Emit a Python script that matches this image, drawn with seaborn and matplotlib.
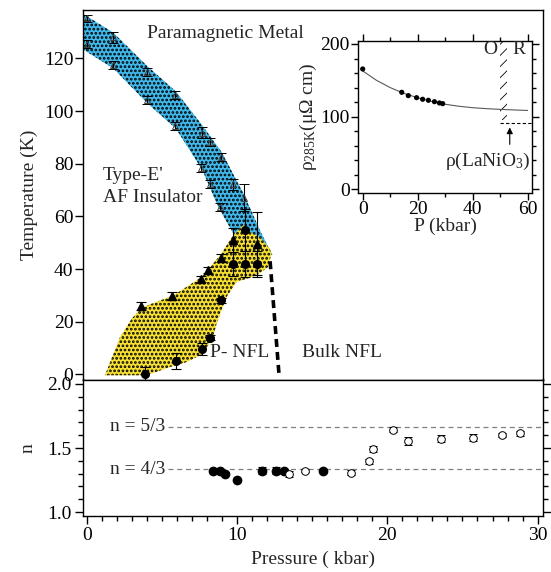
import numpy as np
import pandas as pd
import matplotlib
matplotlib.use('Agg')
import matplotlib.pyplot as plt
import seaborn as sns
from matplotlib.ticker import MultipleLocator

# ---- phase diagram (top panel) ----
# AF insulator band outline (pressure kbar, temperature K)
af_band_p = [-0.4, 1.77, 4.05, 5.93, 7.7, 8.97, 10.4, 11.5, 12.2, 12.35, 11.5, 10.5, 9.63, 8.75, 8.08, 7.7, 5.93, 4.05, 1.77, -0.4]
af_band_t = [137.5, 129.8, 117.0, 107.5, 94.5, 84.5, 69.0, 55.0, 47.0, 45.5, 43.0, 46.0, 54.8, 63.6, 72.5, 77.6, 93.4, 102.9, 116.2, 124.0]

# P-NFL region outline
nfl_band_p = [1.21, 2.21, 2.99, 3.65, 5.75, 7.64, 8.86, 9.74, 10.4, 10.85, 11.5, 12.18, 12.29, 12.07, 11.3, 9.97, 9.3, 8.64, 8.41, 7.75, 6.64, 5.53, 3.99]
nfl_band_t = [-0.3, 14.2, 21.2, 25.4, 30.0, 37.0, 45.2, 52.8, 56.7, 54.1, 52.2, 47.8, 45.9, 40.8, 37.6, 35.1, 29.4, 19.3, 14.2, 7.9, 4.7, 2.8, -0.3]

# transition points in the AF band (open triangles)
open_p = [0.0, 0.0, 1.75, 1.75, 4.0, 4.0, 5.9, 5.9, 7.7, 8.2, 8.9, 7.6, 8.2, 9.74, 10.47, 8.86]
open_t = [135.2, 125.6, 128.0, 117.6, 115.0, 104.3, 106.3, 94.4, 91.8, 88.2, 82.6, 78.5, 72.4, 72.2, 67.2, 63.6]
open_err = [1.5, 1.5, 2.0, 1.5, 1.5, 1.5, 1.5, 1.5, 2.0, 1.5, 1.5, 1.5, 1.5, 2.0, 5.0, 1.5]

# P-NFL upper points (filled triangles)
tri_p = [3.6, 5.7, 7.6, 8.1, 8.9, 9.74, 11.36]
tri_t = [26.0, 29.8, 36.3, 39.8, 44.4, 51.2, 49.7]
tri_err = [1.5, 1.5, 1.0, 1.2, 1.5, 4.5, 12.0]

# P-NFL lower points (filled circles)
dot_p = [3.9, 5.95, 7.7, 8.2, 8.95, 9.74, 10.5, 11.36, 10.5]
dot_t = [0.2, 5.2, 9.7, 14.0, 28.2, 41.9, 41.9, 41.9, 54.8]
dot_err = [2.5, 3.0, 2.2, 1.0, 1.0, 4.5, 5.0, 5.0, 8.0]

# bulk NFL boundary
bound_p = [12.2, 12.8]
bound_t = [43.0, -0.5]

# ---- inset: resistivity at 285 K ----
rho_p = [0.0, 14.2, 16.6, 19.6, 21.8, 23.9, 26.1, 27.9, 29.1]
rho_vals = [165.6, 133.5, 128.9, 126.1, 123.9, 122.5, 120.6, 118.8, 117.9]
fit_p = [0, 5, 10, 15, 20, 25, 30, 35, 40, 45, 50, 55, 60]
fit_rho = [163.0, 150.0, 140.0, 132.0, 126.0, 121.0, 117.0, 114.3, 112.3, 111.0, 110.0, 109.2, 108.5]
or_band_p = [50.0, 52.5]
or_band_lo = [95.0, 95.0]
or_band_hi = [210.0, 210.0]
lanio3_rho = 91.7

# ---- exponent n (bottom panel) ----
n_fill_p = [8.42, 8.84, 9.2, 10.02, 11.66, 12.57, 13.1, 15.74]
n_fill = [1.324, 1.324, 1.297, 1.249, 1.324, 1.324, 1.324, 1.324]
n_fill_err = [0.01, 0.01, 0.01, 0.01, 0.03, 0.03, 0.01, 0.015]
n_open_p = [13.49, 14.52, 17.57, 18.81, 19.02, 20.38, 21.37, 23.57, 25.73, 27.66, 28.83]
n_open = [1.297, 1.324, 1.308, 1.395, 1.492, 1.643, 1.554, 1.573, 1.581, 1.603, 1.614]
n_open_err = [0.02, 0.01, 0.02, 0.02, 0.02, 0.02, 0.03, 0.025, 0.025, 0.015, 0.02]
n_ref = [5 / 3, 4 / 3]
n_ref_labels = ['n = 5/3', 'n = 4/3']

sns.set_style('ticks')
plt.rcParams['font.family'] = ['Liberation Serif', 'DejaVu Serif']
plt.rcParams['mathtext.fontset'] = 'custom'
plt.rcParams['mathtext.rm'] = 'Liberation Serif'
plt.rcParams['mathtext.it'] = 'Liberation Serif:italic'
plt.rcParams['axes.linewidth'] = 1.0
plt.rcParams['axes.edgecolor'] = 'k'
plt.rcParams['xtick.color'] = 'k'
plt.rcParams['ytick.color'] = 'k'

fig = plt.figure(figsize=(5.51, 5.72), dpi=100)

# top panel
ax = fig.add_axes([83 / 551, 1 - 379.5 / 572, 460 / 551, 370 / 572])
plt.rcParams['hatch.linewidth'] = 1.3
p1 = ax.fill(af_band_p, af_band_t, facecolor='#40b8ea', edgecolor='k', linewidth=0, hatch='....')
p2 = ax.fill(nfl_band_p, nfl_band_t, facecolor='#f6e034', edgecolor='k', linewidth=0, hatch='....')
for p in p1 + p2:
    if hasattr(p, 'set_hatch_linewidth'):
        p.set_hatch_linewidth(1.3)
ax.plot(bound_p, bound_t, color='k', lw=2.6, dashes=(2.2, 1.4))

ax.errorbar(open_p, open_t, yerr=open_err, fmt='^', ms=5, mfc='none', mec='0.25', mew=0.7,
            ecolor='k', elinewidth=0.8, capsize=3.5, capthick=0.8)
ax.errorbar(tri_p, tri_t, yerr=tri_err, fmt='^', ms=6, color='k',
            elinewidth=0.8, capsize=3.5, capthick=0.8)
ax.errorbar(dot_p, dot_t, yerr=dot_err, fmt='o', ms=5.5, color='k',
            elinewidth=0.8, capsize=3.5, capthick=0.8)

ax.text(3.98, 129.5, 'Paramagnetic Metal', fontsize=14, va='center')
ax.text(1.08, 75.7, "Type-E'", fontsize=14, va='center')
ax.text(1.08, 67.4, 'AF Insulator', fontsize=14, va='center')
ax.text(8.2, 8.5, 'P- NFL', fontsize=14, va='center')
ax.text(14.3, 8.5, 'Bulk NFL', fontsize=14, va='center')

ax.set_xlim(-0.25, 30.36)
ax.set_ylim(-1.9, 138.6)
ax.xaxis.set_major_locator(MultipleLocator(10))
ax.xaxis.set_minor_locator(MultipleLocator(1))
ax.yaxis.set_major_locator(MultipleLocator(20))
ax.tick_params(axis='x', which='major', direction='out', length=6, width=1, labelbottom=False)
ax.tick_params(axis='x', which='minor', direction='out', length=3.5, width=1)
ax.tick_params(axis='y', direction='out', length=6, width=1, labelsize=14, pad=1)
ax.set_ylabel('Temperature (K)', fontsize=14, labelpad=4)

# inset
ax3 = fig.add_axes([358.3 / 551, 1 - 192.5 / 572, 174 / 551, 151.8 / 572])
plt.rcParams['hatch.linewidth'] = 0.6
band = ax3.fill_between(or_band_p, or_band_lo, or_band_hi, facecolor='none', edgecolor='k',
                        linewidth=0, hatch='///')
if hasattr(band, 'set_hatch_linewidth'):
    band.set_hatch_linewidth(0.6)
sns.lineplot(x=fit_p, y=fit_rho, ax=ax3, color='0.35', lw=0.8)
sns.scatterplot(x=rho_p, y=rho_vals, ax=ax3, color='k', s=14, edgecolor='none', zorder=3)
ax3.hlines(lanio3_rho, 50, 62, color='k', lw=0.8, linestyles=(0, (3, 2)))
ax3.annotate('', xy=(53.5, 89), xytext=(53.5, 58),
             arrowprops=dict(arrowstyle='-|>', color='k', lw=0.8, mutation_scale=9))
ax3.text(46.5, 193, 'O', fontsize=14, ha='center', va='center')
ax3.text(57.0, 193, 'R', fontsize=14, ha='center', va='center')
ax3.text(61.0, 38, 'ρ(LaNiO$_3$)', fontsize=14, ha='right', va='center')
ax3.set_xlim(-1.6, 61.7)
ax3.set_ylim(-4.4, 204.5)
ax3.xaxis.set_major_locator(MultipleLocator(20))
ax3.xaxis.set_minor_locator(MultipleLocator(10))
ax3.yaxis.set_major_locator(MultipleLocator(100))
ax3.yaxis.set_minor_locator(MultipleLocator(20))
ax3.tick_params(which='major', direction='out', length=5, width=1, top=True, right=True, labelsize=14, pad=1)
ax3.tick_params(which='minor', direction='out', length=3, width=1, top=True, right=True)
ax3.set_xlabel('P (kbar)', fontsize=14, labelpad=0)
ax3.set_ylabel('ρ$_{\\mathrm{285K}}$(μΩ cm)', fontsize=14, labelpad=1)

# bottom panel
ax2 = fig.add_axes([83 / 551, 1 - 516 / 572, 460 / 551, 136.5 / 572])
for val, lab in zip(n_ref, n_ref_labels):
    ax2.hlines(val, 5.4, 30.4, color='0.5', lw=0.9, linestyles=(0, (4, 3)))
    ax2.text(3.4, val, lab, fontsize=14, ha='center', va='center')
ax2.errorbar(n_fill_p, n_fill, yerr=n_fill_err, fmt='o', ms=6, color='k',
             elinewidth=0.8, capsize=3, capthick=0.8)
ax2.errorbar(n_open_p, n_open, yerr=n_open_err, fmt='o', ms=5.5, mfc='white', mec='k', mew=0.7,
             ecolor='k', elinewidth=0.8, capsize=3, capthick=0.8)
ax2.set_xlim(-0.25, 30.36)
ax2.set_ylim(0.969, 2.035)
ax2.xaxis.set_major_locator(MultipleLocator(10))
ax2.xaxis.set_minor_locator(MultipleLocator(1))
ax2.set_yticks([1.0, 1.5, 2.0])
ax2.set_yticklabels(['1.0', '1.5', '2.0'])
ax2.yaxis.set_minor_locator(MultipleLocator(0.1))
ax2.tick_params(which='major', direction='out', length=6, width=1, right=True, labelsize=14, pad=2)
ax2.tick_params(which='minor', direction='out', length=3.5, width=1, right=True)
ax2.set_xlabel('Pressure ( kbar)', fontsize=14, labelpad=5)
ax2.set_ylabel('n', fontsize=14, labelpad=8)

fig.savefig('out.png', dpi=100)
